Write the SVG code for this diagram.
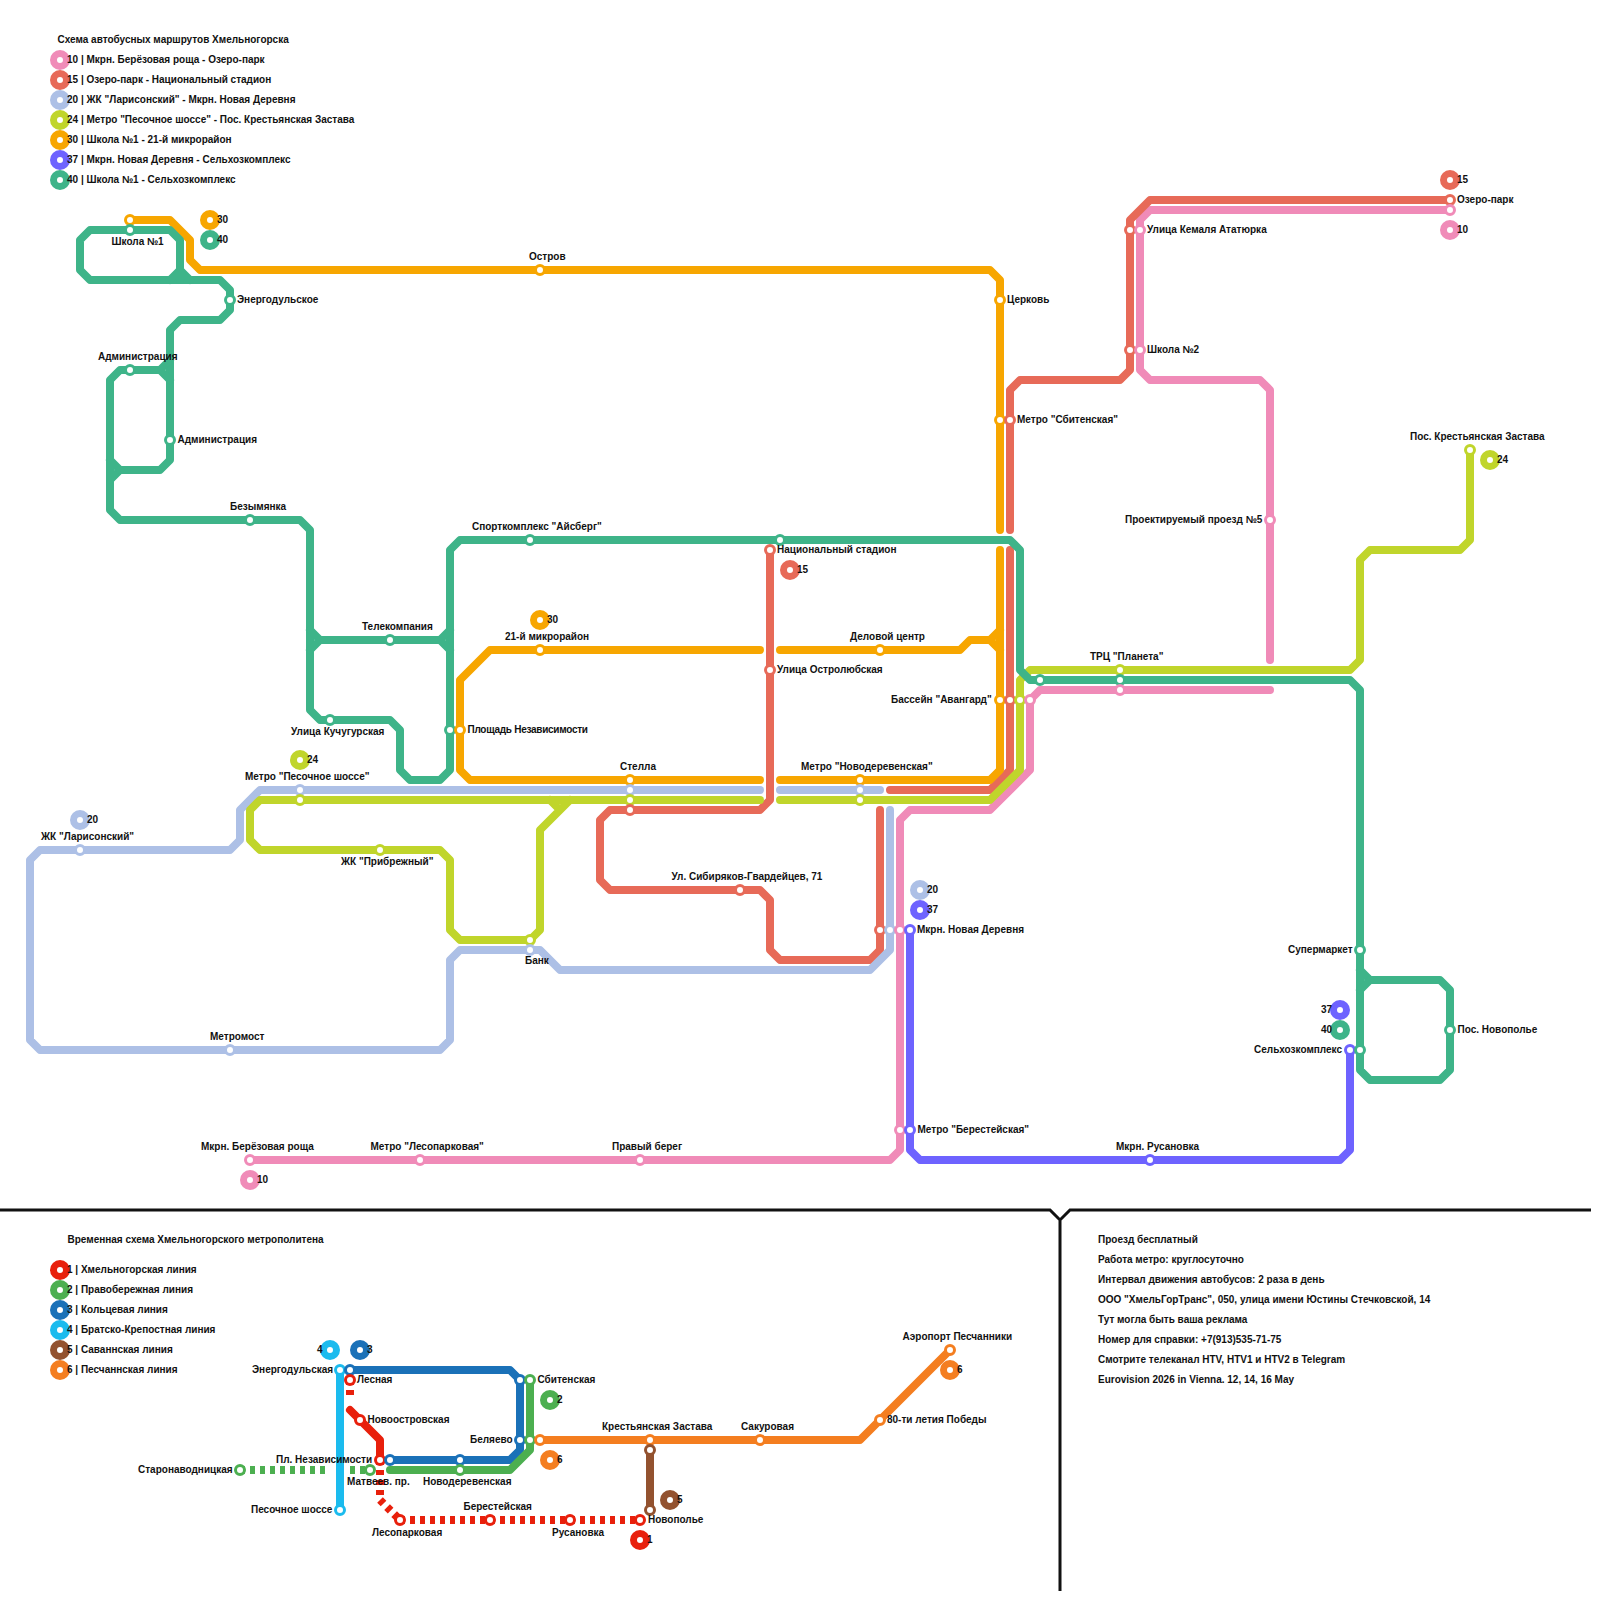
<svg xmlns="http://www.w3.org/2000/svg" width="1600" height="1600" viewBox="0 0 1600 1600">
<style>
text{font-family:"Liberation Sans",Arial,sans-serif;font-size:10px;font-weight:700;fill:#111}
.l{fill:none;stroke-width:8;stroke-linecap:round;stroke-linejoin:round}
.d{fill:none;stroke-width:8;stroke-dasharray:5 5}
.s{r:4.5px;fill:#fff;stroke-width:3}
.k{r:6.5px;fill:#fff;stroke-width:7}
.c10{stroke:#f08bb8}.c15{stroke:#e76a58}.c20{stroke:#adc0e6}.c24{stroke:#c0d52b}.c30{stroke:#f7a600}.c37{stroke:#6e63ff}.c40{stroke:#3eb489}
.m1{stroke:#e8200c}.m2{stroke:#4caf50}.m3{stroke:#1a71b8}.m4{stroke:#1bbbee}.m5{stroke:#93522f}.m6{stroke:#f47e20}
.b{fill:none;stroke:#111;stroke-width:3}
</style>
<g id="connectors">
<path class="l c10" d="M250 1160H890L900 1150V820L910 810H990L1030 770V700L1040 690H1270"/>
<path class="l c10" d="M1270 660V390L1260 380H1150L1140 370V220L1150 210H1450"/>
<path class="l c15" d="M1450 200H1150L1130 220V370L1120 380H1020L1010 390V530"/>
<path class="l c15" d="M1010 550V770L990 790H890"/>
<path class="l c15" d="M770 550V800L760 810H610L600 820V880L610 890H760L770 900V950L780 960H870L880 950V810"/>
<path class="l c20" d="M760 790H260L240 810V840L230 850H40L30 860V1040L40 1050H440L450 1040V960L460 950H540L560 970H870L890 950V810"/>
<path class="l c20" d="M780 790H880"/>
<path class="l c24" d="M760 800H260L250 810V840L260 850H440L450 860V930L460 940H530L540 930V830L570 800M550 800L560 810"/>
<path class="l c24" d="M780 800H990L1020 770V680L1030 670H1350L1360 660V560L1370 550H1460L1470 540V450"/>
<path class="l c30" d="M130 220H170L190 240V260L200 270H990L1000 280V530"/>
<path class="l c30" d="M1000 550V770L990 780H780"/>
<path class="l c30" d="M760 780H470L460 770V680L490 650H760"/>
<path class="l c30" d="M780 650H960L970 640H990L1000 630M990 640L1000 650"/>
<path class="l c37" d="M910 930V1150L920 1160H1340L1350 1150V1050"/>
<path class="l c40" d="M130 230H90L80 240V270L90 280H220L230 290V310L220 320H180L170 330V460L160 470H120L110 480V510L120 520H300L310 530V710L320 720H390L400 730V770L410 780H440L450 770V550L460 540H1010L1020 550V670L1030 680H1350L1360 690V1070L1370 1080H1440L1450 1070V990L1440 980H1370L1360 970"/>
<path class="l c40" d="M130 230H170L180 240V280M170 280L180 270L190 280"/>
<path class="l c40" d="M170 360L160 370H120L110 380V480M170 380L160 370M110 460L120 470M310 630L320 640H440L450 630M310 650L320 640M440 640L450 650M1360 990L1370 980"/>
<path class="b" d="M0 1210H1050L1060 1220L1070 1210H1591M1060 1220V1591"/>
<path class="l m4" d="M340 1370V1510"/>
<path class="l m3" d="M350 1370H510L520 1380V1450L510 1460H390"/>
<path class="l m2" d="M530 1380V1450L510 1470H390"/>
<path class="d m2" d="M240 1470H328M350 1470H370"/>
<path class="l m1" d="M350 1410L380 1440V1460"/>
<path class="d m1" d="M350 1380V1398"/>
<path class="d m1" d="M380 1460V1498"/>
<path class="d m1" d="M380 1500L400 1520"/>
<path class="d m1" d="M400 1520H640"/>
<path class="l m6" d="M540 1440H860L950 1350"/>
<path class="l m5" d="M650 1450V1510"/>
</g>
<g id="line-legend">
<text x="57.5" y="43">Схема автобусных маршрутов Хмельногорска</text>
<g id="lg10"><circle class="k c10" cx="60" cy="60"/><text x="67" y="63">10 | Мкрн. Берёзовая роща - Озеро-парк</text></g>
<g id="lg15"><circle class="k c15" cx="60" cy="80"/><text x="67" y="83">15 | Озеро-парк - Национальный стадион</text></g>
<g id="lg20"><circle class="k c20" cx="60" cy="100"/><text x="67" y="103">20 | ЖК "Ларисонский" - Мкрн. Новая Деревня</text></g>
<g id="lg24"><circle class="k c24" cx="60" cy="120"/><text x="67" y="123">24 | Метро "Песочное шоссе" - Пос. Крестьянская Застава</text></g>
<g id="lg30"><circle class="k c30" cx="60" cy="140"/><text x="67" y="143">30 | Школа №1 - 21-й микрорайон</text></g>
<g id="lg37"><circle class="k c37" cx="60" cy="160"/><text x="67" y="163">37 | Мкрн. Новая Деревня - Сельхозкомплекс</text></g>
<g id="lg40"><circle class="k c40" cx="60" cy="180"/><text x="67" y="183">40 | Школа №1 - Сельхозкомплекс</text></g>
<text x="67.5" y="1243">Временная схема Хмельногорского метрополитена</text>
<g id="lm1"><circle class="k m1" cx="60" cy="1270"/><text x="67" y="1273">1 | Хмельногорская линия</text></g>
<g id="lm2"><circle class="k m2" cx="60" cy="1290"/><text x="67" y="1293">2 | Правобережная линия</text></g>
<g id="lm3"><circle class="k m3" cx="60" cy="1310"/><text x="67" y="1313">3 | Кольцевая линия</text></g>
<g id="lm4"><circle class="k m4" cx="60" cy="1330"/><text x="67" y="1333">4 | Братско-Крепостная линия</text></g>
<g id="lm5"><circle class="k m5" cx="60" cy="1350"/><text x="67" y="1353">5 | Саваннская линия</text></g>
<g id="lm6"><circle class="k m6" cx="60" cy="1370"/><text x="67" y="1373">6 | Песчаннская линия</text></g>
</g>
<g id="route-badges">
<g><circle class="k c30" cx="210" cy="220"/><text x="217" y="223">30</text></g>
<g><circle class="k c40" cx="210" cy="240"/><text x="217" y="243">40</text></g>
<g><circle class="k c15" cx="1450" cy="180"/><text x="1457" y="183">15</text></g>
<g><circle class="k c10" cx="1450" cy="230"/><text x="1457" y="233">10</text></g>
<g><circle class="k c24" cx="1490" cy="460"/><text x="1497" y="463">24</text></g>
<g><circle class="k c15" cx="790" cy="570"/><text x="797" y="573">15</text></g>
<g><circle class="k c30" cx="540" cy="620"/><text x="547" y="623">30</text></g>
<g><circle class="k c24" cx="300" cy="760"/><text x="307" y="763">24</text></g>
<g><circle class="k c20" cx="80" cy="820"/><text x="87" y="823">20</text></g>
<g><circle class="k c20" cx="920" cy="890"/><text x="927" y="893">20</text></g>
<g><circle class="k c37" cx="920" cy="910"/><text x="927" y="913">37</text></g>
<g><circle class="k c37" cx="1340" cy="1010"/><text x="1321" y="1013">37</text></g>
<g><circle class="k c40" cx="1340" cy="1030"/><text x="1321" y="1033">40</text></g>
<g><circle class="k c10" cx="250" cy="1180"/><text x="257" y="1183">10</text></g>
<g><circle class="k m4" cx="330" cy="1350"/><text x="317" y="1353">4</text></g>
<g><circle class="k m3" cx="360" cy="1350"/><text x="367" y="1353">3</text></g>
<g><circle class="k m2" cx="550" cy="1400"/><text x="557" y="1403">2</text></g>
<g><circle class="k m6" cx="550" cy="1460"/><text x="557" y="1463">6</text></g>
<g><circle class="k m6" cx="950" cy="1370"/><text x="957" y="1373">6</text></g>
<g><circle class="k m5" cx="670" cy="1500"/><text x="677" y="1503">5</text></g>
<g><circle class="k m1" cx="640" cy="1540"/><text x="647" y="1543">1</text></g>
</g>
<g id="bus-stations">
<g id="s1"><circle class="s c30" cx="130" cy="220"/><circle class="s c40" cx="130" cy="230"/><text x="111.5" y="245">Школа №1</text></g>
<g id="s2"><circle class="s c40" cx="230" cy="300"/><text x="237" y="303">Энергодульское</text></g>
<g id="s3"><circle class="s c40" cx="130" cy="370"/><text x="98" y="360">Администрация</text></g>
<g id="s4"><circle class="s c40" cx="170" cy="440"/><text x="177.5" y="443">Администрация</text></g>
<g id="s5"><circle class="s c40" cx="250" cy="520"/><text x="230" y="510">Безымянка</text></g>
<g id="s6"><circle class="s c40" cx="390" cy="640"/><text x="362" y="630">Телекомпания</text></g>
<g id="s7"><circle class="s c40" cx="330" cy="720"/><text x="291" y="735">Улица Кучугурская</text></g>
<g id="s8"><circle class="s c40" cx="450" cy="730"/><circle class="s c30" cx="460" cy="730"/><text x="467.5" y="733" textLength="120.5">Площадь Независимости</text></g>
<g id="s9"><circle class="s c40" cx="530" cy="540"/><text x="472" y="530">Спорткомплекс "Айсберг"</text></g>
<g id="s10"><circle class="s c40" cx="780" cy="540"/><circle class="s c15" cx="770" cy="550"/><text x="777" y="553">Национальный стадион</text></g>
<g id="s11"><circle class="s c30" cx="540" cy="270"/><text x="529" y="260">Остров</text></g>
<g id="s12"><circle class="s c30" cx="1000" cy="300"/><text x="1007" y="303">Церковь</text></g>
<g id="s13"><circle class="s c30" cx="1000" cy="420"/><circle class="s c15" cx="1010" cy="420"/><text x="1017" y="423">Метро "Сбитенская"</text></g>
<g id="s14"><circle class="s c15" cx="1130" cy="230"/><circle class="s c10" cx="1140" cy="230"/><text x="1147" y="233">Улица Кемаля Ататюрка</text></g>
<g id="s15"><circle class="s c15" cx="1130" cy="350"/><circle class="s c10" cx="1140" cy="350"/><text x="1147" y="353">Школа №2</text></g>
<g id="s16"><circle class="s c15" cx="1450" cy="200"/><circle class="s c10" cx="1450" cy="210"/><text x="1457" y="203">Озеро-парк</text></g>
<g id="s17"><circle class="s c24" cx="1470" cy="450"/><text x="1410" y="440">Пос. Крестьянская Застава</text></g>
<g id="s18"><circle class="s c10" cx="1270" cy="520"/><text x="1125" y="523">Проектируемый проезд №5</text></g>
<g id="s19"><circle class="s c24" cx="1120" cy="670"/><circle class="s c40" cx="1120" cy="680"/><circle class="s c10" cx="1120" cy="690"/><text x="1090" y="660">ТРЦ "Планета"</text></g>
<circle class="s c40" cx="1040" cy="680"/>
<g id="s20"><circle class="s c30" cx="1000" cy="700"/><circle class="s c15" cx="1010" cy="700"/><circle class="s c24" cx="1020" cy="700"/><circle class="s c10" cx="1030" cy="700"/><text x="891" y="703">Бассейн "Авангард"</text></g>
<g id="s21"><circle class="s c30" cx="880" cy="650"/><text x="850" y="640">Деловой центр</text></g>
<g id="s22"><circle class="s c30" cx="860" cy="780"/><circle class="s c20" cx="860" cy="790"/><circle class="s c24" cx="860" cy="800"/><text x="801" y="770">Метро "Новодеревенская"</text></g>
<g id="s23"><circle class="s c15" cx="770" cy="670"/><text x="777" y="673">Улица Остролюбская</text></g>
<g id="s24"><circle class="s c15" cx="740" cy="890"/><text x="671.5" y="880">Ул. Сибиряков-Гвардейцев, 71</text></g>
<g id="s25"><circle class="s c30" cx="630" cy="780"/><circle class="s c20" cx="630" cy="790"/><circle class="s c24" cx="630" cy="800"/><circle class="s c15" cx="630" cy="810"/><text x="620" y="770">Стелла</text></g>
<g id="s26"><circle class="s c30" cx="540" cy="650"/><text x="505" y="640">21-й микрорайон</text></g>
<g id="s27"><circle class="s c20" cx="300" cy="790"/><circle class="s c24" cx="300" cy="800"/><text x="245" y="780">Метро "Песочное шоссе"</text></g>
<g id="s28"><circle class="s c20" cx="80" cy="850"/><text x="41" y="840">ЖК "Ларисонский"</text></g>
<g id="s29"><circle class="s c24" cx="380" cy="850"/><text x="341" y="865">ЖК "Прибрежный"</text></g>
<g id="s30"><circle class="s c24" cx="530" cy="940"/><circle class="s c20" cx="530" cy="950"/><text x="525" y="964">Банк</text></g>
<g id="s31"><circle class="s c20" cx="230" cy="1050"/><text x="210" y="1040">Метромост</text></g>
<g id="s32"><circle class="s c15" cx="880" cy="930"/><circle class="s c20" cx="890" cy="930"/><circle class="s c10" cx="900" cy="930"/><circle class="s c37" cx="910" cy="930"/><text x="917" y="933">Мкрн. Новая Деревня</text></g>
<g id="s33"><circle class="s c10" cx="900" cy="1130"/><circle class="s c37" cx="910" cy="1130"/><text x="917.5" y="1133">Метро "Берестейская"</text></g>
<g id="s34"><circle class="s c40" cx="1360" cy="950"/><text x="1288" y="953">Супермаркет</text></g>
<g id="s35"><circle class="s c37" cx="1350" cy="1050"/><circle class="s c40" cx="1360" cy="1050"/><text x="1254" y="1053">Сельхозкомплекс</text></g>
<g id="s36"><circle class="s c40" cx="1450" cy="1030"/><text x="1457.5" y="1033">Пос. Новополье</text></g>
<g id="s37"><circle class="s c37" cx="1150" cy="1160"/><text x="1116" y="1150">Мкрн. Русановка</text></g>
<g id="s38"><circle class="s c10" cx="250" cy="1160"/><text x="201" y="1150">Мкрн. Берёзовая роща</text></g>
<g id="s39"><circle class="s c10" cx="420" cy="1160"/><text x="370.5" y="1150">Метро "Лесопарковая"</text></g>
<g id="s40"><circle class="s c10" cx="640" cy="1160"/><text x="612" y="1150">Правый берег</text></g>
</g>
<g id="metro-stations">
<g id="m1"><circle class="s m4" cx="340" cy="1370"/><circle class="s m3" cx="350" cy="1370"/><text x="252" y="1373">Энергодульская</text></g>
<g id="m2"><circle class="s m1" cx="350" cy="1380"/><text x="357" y="1383">Лесная</text></g>
<g id="m3"><circle class="s m3" cx="520" cy="1380"/><circle class="s m2" cx="530" cy="1380"/><text x="537.5" y="1383">Сбитенская</text></g>
<g id="m4"><circle class="s m1" cx="360" cy="1420"/><text x="367.5" y="1423">Новоостровская</text></g>
<g id="m5"><circle class="s m3" cx="520" cy="1440"/><circle class="s m2" cx="530" cy="1440"/><circle class="s m6" cx="540" cy="1440"/><text x="470" y="1443">Беляево</text></g>
<g id="m6"><circle class="s m6" cx="650" cy="1440"/><circle class="s m5" cx="650" cy="1450"/><text x="602" y="1430">Крестьянская Застава</text></g>
<g id="m7"><circle class="s m1" cx="380" cy="1460"/><circle class="s m3" cx="390" cy="1460"/><text x="276" y="1463">Пл. Независимости</text></g>
<g id="m8"><circle class="s m3" cx="460" cy="1460"/><circle class="s m2" cx="460" cy="1470"/><text x="423" y="1485">Новодеревенская</text></g>
<g id="m9"><circle class="s m2" cx="370" cy="1470"/><text x="347" y="1485">Матвеев. пр.</text></g>
<g id="m10"><circle class="s m2" cx="240" cy="1470"/><text x="138" y="1473">Старонаводницкая</text></g>
<g id="m11"><circle class="s m4" cx="340" cy="1510"/><text x="251" y="1513">Песочное шоссе</text></g>
<g id="m12"><circle class="s m1" cx="400" cy="1520"/><text x="372" y="1536">Лесопарковая</text></g>
<g id="m13"><circle class="s m1" cx="490" cy="1520"/><text x="463.5" y="1510">Берестейская</text></g>
<g id="m14"><circle class="s m1" cx="570" cy="1520"/><text x="552" y="1536">Русановка</text></g>
<g id="m15"><circle class="s m5" cx="650" cy="1510"/><circle class="s m1" cx="640" cy="1520"/><text x="648" y="1523">Новополье</text></g>
<g id="m16"><circle class="s m6" cx="760" cy="1440"/><text x="741" y="1430">Сакуровая</text></g>
<g id="m17"><circle class="s m6" cx="880" cy="1420"/><text x="887" y="1423">80-ти летия Победы</text></g>
<g id="m18"><circle class="s m6" cx="950" cy="1350"/><text x="902.5" y="1340">Аэропорт Песчанники</text></g>
</g>
<g id="notes">
<text x="1098" y="1243">Проезд бесплатный</text>
<text x="1098" y="1263">Работа метро: круглосуточно</text>
<text x="1098" y="1283">Интервал движения автобусов: 2 раза в день</text>
<text x="1098" y="1303">ООО "ХмельГорТранс", 050, улица имени Юстины Стечковской, 14</text>
<text x="1098" y="1323">Тут могла быть ваша реклама</text>
<text x="1098" y="1343">Номер для справки: +7(913)535-71-75</text>
<text x="1098" y="1363">Смотрите телеканал HTV, HTV1 и HTV2 в Telegram</text>
<text x="1098" y="1383">Eurovision 2026 in Vienna. 12, 14, 16 May</text>
</g>
</svg>
